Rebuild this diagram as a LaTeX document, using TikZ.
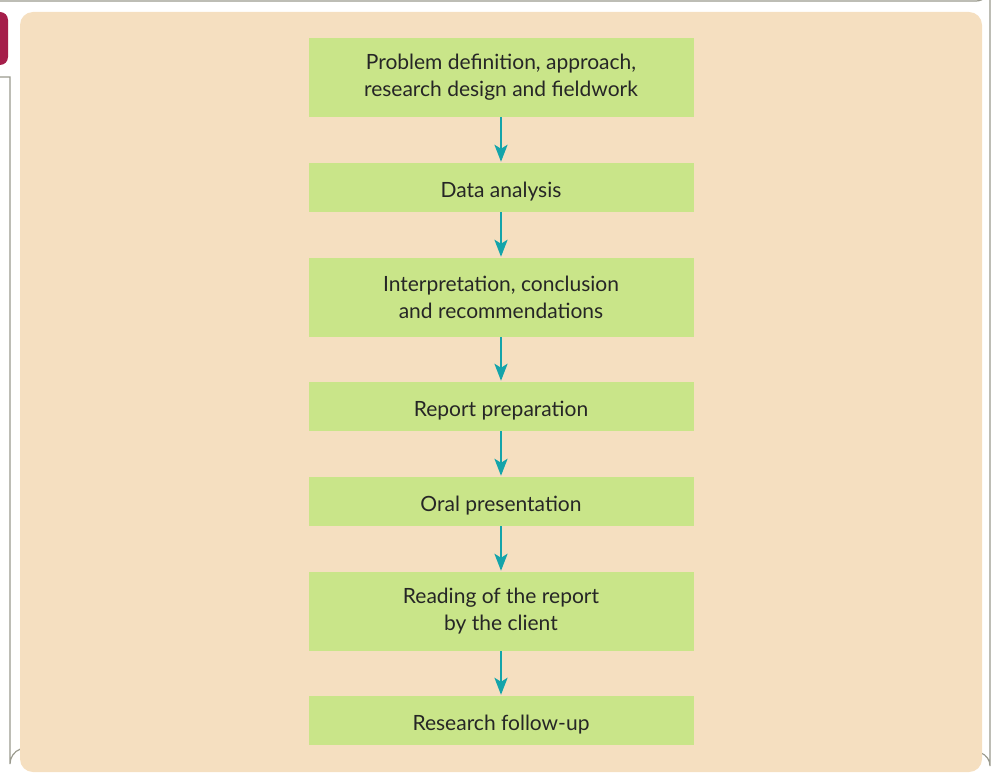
\documentclass[tikz,border=0pt]{standalone}
\usepackage{fontspec}
\setmainfont{Lato}
\usetikzlibrary{arrows.meta}
\definecolor{panel}{HTML}{F5DFC0}
\definecolor{boxgreen}{HTML}{C9E589}
\definecolor{teal}{HTML}{14A4AA}
\definecolor{tabred}{HTML}{A51E4A}
\definecolor{frame}{HTML}{9A9A8E}
\begin{document}
\begin{tikzpicture}[x=1pt,y=-1pt,
  stage/.style={fill=boxgreen, draw=none, minimum width=385pt, inner sep=0pt, align=center,
    font=\fontsize{21}{27}\selectfont, text=black!85,
    execute at begin node={\rule{0pt}{23pt}}},
  flow/.style={draw=teal, line width=2.6pt, -{Stealth[length=17pt,width=13pt,inset=4pt]}, shorten >=1pt}]
\useasboundingbox (0,0) rectangle (992,778);
% outer frame
\draw[frame, line width=1.2pt] (0,1) -- (976,1) arc[start angle=90,end angle=0,radius=14] -- (990,766) arc[start angle=0,end angle=-70,radius=14];
\draw[frame, line width=1.2pt] (0,77) -- (10,77) -- (10,764) arc[start angle=180,end angle=250,radius=16];
% red tab
\fill[tabred, rounded corners=8pt] (-12,12) rectangle (8,65);
% panel
\fill[panel, rounded corners=13pt] (20,12) rectangle (982,772);
% stages
\node[stage, minimum height=79pt] (s1) at (501,77.5) {Problem definition, approach,\\research design and fieldwork};
\node[stage, minimum height=49pt] (s2) at (501,187.5) {Data analysis};
\node[stage, minimum height=79pt] (s3) at (501,297.5) {Interpretation, conclusion\\and recommendations};
\node[stage, minimum height=49pt] (s4) at (501,406.5) {Report preparation};
\node[stage, minimum height=49pt] (s5) at (501,501.5) {Oral presentation};
\node[stage, minimum height=79pt] (s6) at (501,611.5) {Reading of the report\\by the client};
\node[stage, minimum height=49pt] (s7) at (501,720.5) {Research follow-up};
\foreach \a/\b in {s1/s2,s2/s3,s3/s4,s4/s5,s5/s6,s6/s7}
  \draw[flow] (\a) -- (\b);
\end{tikzpicture}
\end{document}
